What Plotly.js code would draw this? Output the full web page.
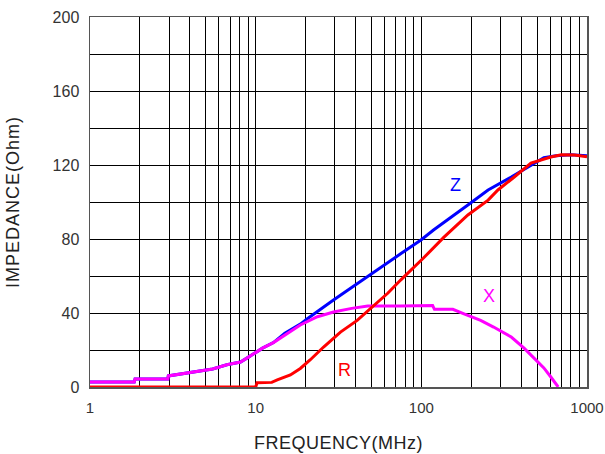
<!DOCTYPE html>
<html>
<head>
<meta charset="utf-8">
<script src="https://cdn.plot.ly/plotly-3.0.1.min.js"></script>
<style>
html,body{margin:0;padding:0;background:#fff;}
#chart{width:605px;height:454px;}
.ytitle{letter-spacing:1px;}
.xtitle{letter-spacing:0.5px;}
</style>
</head>
<body>
<div id="chart"></div>
<script>
// Frequency (MHz) and impedance (Ohm) values
const zFreq = [1, 1.85, 1.87, 2.95, 2.97, 4.3, 5.5, 6.7, 8.1, 9.0, 11, 12.8, 15, 18.6, 20.6, 29.5, 47.5, 75, 99.5, 119, 191, 253, 349, 441, 549, 650, 800, 1000];
const zVal  = [2.7, 2.7, 4.3, 4.3, 6, 8, 9.7, 12, 13.5, 16, 21, 24, 29, 34, 37, 47, 60, 72, 79.5, 85, 98.4, 106.5, 113.5, 119, 124, 125, 125.5, 125];

const xFreq = [1, 1.85, 1.87, 2.95, 2.97, 4.3, 5.5, 6.7, 8.1, 9.0, 11, 12.8, 15, 18.6, 23.6, 29.5, 38, 47.5, 75, 117, 120, 155, 181, 228, 273, 349, 417, 480, 549, 605, 670];
const xVal  = [2.7, 2.7, 4.3, 4.3, 6, 8, 9.7, 12, 13.5, 16, 21, 24, 28, 33.5, 38, 40.5, 42.5, 43.8, 43.8, 44, 42, 42, 39.5, 36, 32.4, 27, 21, 15.7, 10.3, 5.4, 0];

const rFreq = [1, 10, 10.2, 12.5, 13.5, 16.2, 18.6, 21.3, 25.7, 32.5, 41, 49.5, 62.9, 75, 103, 137, 191, 253, 290, 364, 459, 605, 700, 839, 1000];
const rVal  = [0, 0, 2.3, 2.5, 3.8, 6.5, 10, 14.6, 21.6, 29.7, 36, 42.7, 50.8, 57.8, 69.7, 81, 93, 101, 106.5, 113.5, 121, 124.3, 125.5, 125.4, 124.5];

const xTickVals = [1,2,3,4,5,6,7,8,9,10,20,30,40,50,60,70,80,90,100,200,300,400,500,600,700,800,900,1000];
const xTickText = xTickVals.map(v => [1,10,100,1000].includes(v) ? String(v) : '');
const yTickVals = [0,20,40,60,80,100,120,140,160,180,200];
const yTickText = yTickVals.map(v => v % 40 === 0 ? String(v) : '');

const labels = [
  {text:'Z', f:161, v:109, color:'#0000ff'},
  {text:'X', f:256, v:49, color:'#ff00ff'},
  {text:'R', f:34.4, v:9.2, color:'#ff0000'}
];

const traces = [
  {x:zFreq, y:zVal, mode:'lines', line:{color:'#0000ff', width:3}, hoverinfo:'skip'},
  {x:xFreq, y:xVal, mode:'lines', line:{color:'#ff00ff', width:3}, hoverinfo:'skip'},
  {x:rFreq, y:rVal, mode:'lines', line:{color:'#ff0000', width:3}, hoverinfo:'skip'}
];

const layout = {
  width:605, height:454,
  margin:{l:90, r:18, t:17, b:67},
  paper_bgcolor:'#fff', plot_bgcolor:'#fff',
  showlegend:false,
  font:{family:'Liberation Sans, Arial, sans-serif', color:'#333'},
  xaxis:{
    type:'log', range:[0,3],
    tickvals:xTickVals, ticktext:xTickText,
    showgrid:true, gridcolor:'#000', gridwidth:1,
    showline:true, linecolor:'#555', linewidth:1.5, mirror:true,
    ticks:'', tickfont:{size:15, color:'#333'}, ticklabelstandoff:6,
    zeroline:false,
    title:{text:'FREQUENCY(MHz)', font:{size:18, color:'#222'}, standoff:22}
  },
  yaxis:{
    range:[0,200],
    tickvals:yTickVals, ticktext:yTickText,
    showgrid:true, gridcolor:'#000', gridwidth:1,
    showline:true, linecolor:'#555', linewidth:1.5, mirror:true,
    ticks:'', tickfont:{size:16, color:'#333'}, ticklabelstandoff:6,
    zeroline:false,
    title:{text:'IMPEDANCE(Ohm)', font:{size:18, color:'#222'}, standoff:28}
  },
  annotations: labels.map(l => ({
    x:Math.log10(l.f), y:l.v, xref:'x', yref:'y', text:l.text, showarrow:false,
    font:{size:18, color:l.color}
  }))
};

Plotly.newPlot('chart', traces, layout, {staticPlot:true, displayModeBar:false});
</script>
</body>
</html>
